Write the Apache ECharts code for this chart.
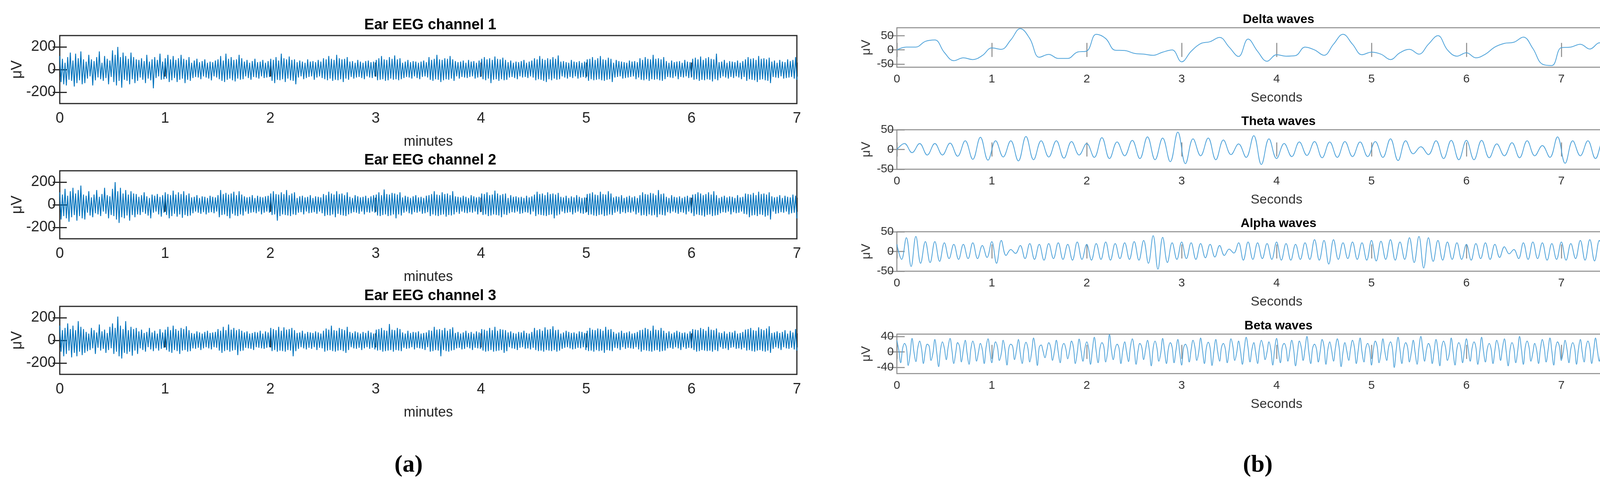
<!DOCTYPE html>
<html><head><meta charset="utf-8">
<script src="https://cdn.jsdelivr.net/npm/echarts@6/dist/echarts.min.js"></script>
<style>html,body{margin:0;padding:0;background:#fff;overflow:hidden}#c{width:4273px;height:1259px}</style>
</head><body><div id="c"></div>
<script>
// ---------- DATA ----------
const leftTitles = ['Ear EEG channel 1','Ear EEG channel 2','Ear EEG channel 3'];
const rightTitles = ['Delta waves','Theta waves','Alpha waves','Beta waves'];
const leftYTicks = [-200,0,200];
const deltaYTicks = [-50,0,50];
const thetaYTicks = [-50,0,50];
const alphaYTicks = [-50,0,50];
const betaYTicks = [-40,0,40];

// Ear EEG channels (µV), evenly spaced over 0–7 minutes
const ch1 = [120,-110,95,-130,60,-140,110,-90,150,-100,80,-150,140,-120,100,-95,160,-130,90,-120,
70,-80,130,-60,90,-140,75,-95,110,-70,160,-85,60,-100,120,-75,95,-130,80,-65,
170,-110,130,-140,200,-100,110,-160,150,-90,120,-100,95,-130,150,-85,110,-120,90,-100,
85,-70,100,-90,75,-120,130,-80,70,-95,90,-165,110,-75,85,-60,140,-90,70,-85,
100,-80,130,-110,90,-95,120,-75,85,-110,100,-90,130,-80,95,-120,85,-90,110,-100,
60,-75,80,-65,95,-70,65,-85,75,-60,90,-70,60,-80,70,-95,65,-60,80,-70,
90,-85,120,-100,80,-110,140,-90,95,-80,110,-95,85,-105,90,-80,130,-90,100,-85,
70,-60,85,-75,60,-90,75,-65,95,-70,65,-80,70,-60,85,-75,60,-70,75,-65,
95,-100,85,-120,110,-90,80,-95,140,-85,100,-110,90,-80,115,-95,85,-100,90,-130,
65,-70,80,-60,70,-85,60,-75,90,-65,70,-60,75,-90,65,-70,85,-60,70,-75,
100,-85,90,-95,120,-80,95,-100,85,-90,130,-95,100,-85,90,-110,95,-80,110,-90,
70,-65,75,-80,60,-70,85,-65,70,-75,60,-85,75,-60,80,-70,65,-75,70,-60,
85,-95,100,-90,120,-85,90,-100,85,-95,110,-80,95,-90,125,-85,90,-95,100,-85,
60,-75,70,-65,85,-70,65,-80,75,-60,70,-75,60,-85,70,-65,80,-60,65,-70,
110,-90,85,-100,95,-85,130,-90,90,-110,85,-95,100,-85,95,-90,120,-80,90,-100,
75,-60,65,-80,70,-65,80,-70,60,-75,85,-65,70,-60,75,-80,60,-70,80,-65,
95,-85,110,-95,90,-80,100,-120,85,-90,115,-85,95,-100,90,-85,105,-95,85,-90,
65,-70,80,-65,60,-75,70,-85,65,-60,75,-70,85,-65,60,-75,70,-60,80,-70,
100,-95,90,-85,120,-90,95,-100,85,-110,100,-85,90,-95,110,-80,95,-90,125,-85,
70,-60,75,-70,65,-80,60,-65,85,-75,70,-60,65,-80,75,-70,60,-65,70,-75,
90,-100,95,-85,110,-95,85,-90,100,-85,120,-95,90,-100,85,-90,105,-85,95,-110,
60,-70,85,-65,75,-60,70,-80,65,-75,60,-70,80,-65,70,-60,75,-85,65,-70,
100,-90,85,-95,110,-85,95,-100,90,-85,130,-90,95,-85,100,-95,90,-100,110,-85,
75,-65,60,-70,80,-75,65,-60,70,-85,75,-65,60,-70,85,-60,70,-75,65,-70,
95,-90,105,-85,90,-100,115,-90,85,-95,100,-85,110,-90,95,-105,90,-85,140,-95,
65,-75,70,-60,85,-70,60,-80,75,-65,70,-75,65,-60,80,-70,60,-85,75,-65,
90,-100,110,-85,95,-90,100,-95,85,-110,120,-90,95,-85,100,-95,90,-100,105,-120,
70,-65,80,-70,60,-75,85,-60,70,-80,65,-75,90,-70,75,-65,85,-80,110,-90];
const ch2 = [110,-130,90,-100,140,-120,80,-150,120,-110,150,-90,100,-140,130,-100,170,-120,90,-130,
80,-70,120,-95,65,-110,90,-75,130,-85,70,-100,95,-60,150,-80,85,-120,75,-90,
140,-100,200,-130,120,-160,150,-110,100,-120,130,-95,90,-140,120,-90,100,-110,95,-85,
70,-90,85,-65,110,-80,75,-95,60,-120,90,-70,80,-60,95,-85,70,-105,85,-70,
110,-90,95,-120,85,-100,125,-80,90,-105,110,-85,95,-115,120,-90,85,-100,100,-95,
65,-75,70,-60,85,-70,60,-80,75,-65,70,-85,60,-70,80,-65,70,-75,65,-60,
85,-110,130,-90,95,-85,105,-100,90,-120,100,-80,115,-95,85,-100,120,-85,90,-95,
75,-60,65,-80,70,-70,85,-65,60,-75,80,-60,70,-85,65,-70,75,-60,80,-70,
100,-90,120,-85,95,-140,90,-100,110,-85,95,-90,130,-95,85,-100,100,-85,110,-90,
60,-70,75,-65,80,-85,65,-60,70,-75,85,-70,60,-65,75,-80,70,-60,65,-75,
95,-100,85,-90,115,-95,100,-85,90,-110,120,-80,95,-90,100,-95,85,-100,110,-85,
70,-75,60,-65,85,-70,75,-80,65,-60,70,-85,80,-65,60,-70,75,-60,85,-70,
90,-95,110,-100,85,-90,135,-85,95,-100,90,-95,105,-85,100,-120,90,-85,110,-95,
65,-70,80,-60,70,-75,60,-85,75,-65,85,-70,65,-60,70,-80,60,-75,80,-65,
85,-100,95,-85,120,-95,90,-100,85,-90,110,-85,95,-105,100,-90,85,-95,120,-85,
75,-65,70,-80,65,-60,80,-70,70,-75,60,-65,85,-70,75,-60,65,-85,70,-65,
100,-90,95,-85,110,-100,85,-95,90,-85,125,-90,100,-95,85,-110,95,-85,100,-90,
60,-75,85,-65,70,-70,75,-60,65,-80,70,-75,60,-65,80,-70,65,-85,75,-60,
90,-100,115,-85,95,-90,100,-95,85,-100,110,-90,95,-85,100,-120,90,-95,105,-85,
70,-60,65,-75,80,-70,60,-65,75,-85,65,-70,85,-60,70,-75,60,-80,65,-70,
95,-90,100,-85,110,-95,90,-100,85,-90,115,-85,95,-100,90,-95,120,-85,100,-90,
65,-70,75,-60,70,-80,85,-65,60,-75,70,-65,80,-70,65,-60,75,-85,60,-70,
85,-95,110,-90,95,-100,90,-85,105,-95,100,-90,85,-110,130,-85,95,-90,100,-95,
70,-65,60,-75,85,-60,70,-70,65,-80,75,-65,60,-70,70,-85,80,-60,65,-75,
90,-100,95,-85,110,-90,100,-95,85,-105,95,-90,110,-85,90,-100,120,-95,85,-90,
60,-75,70,-65,80,-70,65,-60,75,-85,70,-65,60,-75,85,-70,65,-60,70,-80,
100,-85,95,-110,90,-95,105,-90,85,-100,115,-85,95,-90,100,-105,90,-95,110,-130,
75,-60,65,-80,70,-75,85,-65,60,-70,80,-60,70,-85,65,-75,90,-70,80,-120];
const ch3 = [130,-100,90,-140,110,-120,150,-90,100,-150,130,-110,90,-140,170,-100,120,-130,100,-110,
75,-95,60,-85,110,-70,90,-120,70,-65,140,-90,80,-75,95,-110,65,-85,120,-70,
150,-120,110,-100,210,-140,130,-160,100,-110,170,-120,90,-100,120,-135,100,-90,110,-120,
80,-70,95,-85,65,-100,75,-60,110,-80,70,-95,85,-70,60,-90,100,-75,70,-65,
95,-85,120,-100,90,-110,130,-85,100,-95,85,-120,110,-90,100,-85,125,-100,90,-95,
65,-70,60,-75,80,-65,70,-85,60,-70,75,-60,85,-70,65,-80,70,-60,75,-65,
100,-90,85,-110,120,-95,90,-85,140,-100,95,-90,110,-85,90,-130,100,-95,85,-90,
70,-65,80,-70,60,-75,65,-85,75,-60,70,-65,85,-70,60,-75,80,-65,70,-60,
110,-95,100,-85,90,-100,120,-90,85,-95,115,-100,95,-85,100,-90,110,-140,90,-95,
65,-75,70,-60,85,-70,60,-80,75,-65,70,-75,65,-60,80,-85,70,-65,60,-70,
85,-100,105,-90,95,-85,130,-95,90,-100,85,-90,110,-85,100,-95,90,-110,120,-85,
75,-60,65,-70,80,-75,70,-65,60,-85,75,-70,65,-60,85,-75,70,-65,60,-80,
95,-90,100,-85,110,-100,90,-95,85,-90,145,-85,95,-100,90,-85,110,-90,100,-95,
70,-65,60,-75,85,-70,65,-60,75,-80,70,-65,80,-70,60,-75,65,-85,70,-60,
90,-100,85,-95,120,-85,95,-90,100,-140,90,-85,110,-95,85,-100,100,-90,115,-85,
65,-70,75,-65,60,-80,70,-75,85,-60,65,-70,75,-85,60,-65,80,-70,70,-75,
100,-90,95,-100,85,-95,110,-85,90,-100,120,-95,85,-90,100,-85,95,-110,90,-95,
70,-60,80,-70,65,-75,60,-85,75,-65,70,-60,85,-75,65,-70,60,-80,75,-65,
110,-85,90,-95,100,-90,85,-100,115,-85,95,-90,100,-95,125,-85,90,-100,95,-90,
60,-75,70,-65,85,-60,75,-70,65,-80,70,-75,60,-65,80,-70,75,-60,65,-85,
85,-95,110,-90,95,-100,90,-85,105,-95,100,-90,85,-110,120,-85,95,-90,100,-95,
75,-65,60,-70,70,-85,85,-60,65,-75,70,-65,80,-70,60,-75,65,-60,75,-80,
90,-100,95,-85,110,-90,100,-95,85,-100,130,-90,95,-85,90,-100,110,-95,85,-90,
65,-70,80,-65,60,-75,70,-60,85,-70,75,-85,65,-60,70,-75,60,-65,80,-70,
100,-85,95,-100,90,-95,110,-85,100,-90,85,-95,120,-90,95,-100,90,-85,105,-95,
70,-60,65,-75,80,-70,60,-85,75,-65,70,-60,85,-75,60,-70,65,-80,75,-65,
95,-90,100,-85,110,-95,90,-100,85,-90,115,-85,100,-95,90,-100,105,-90,125,-110,
65,-75,70,-60,80,-70,65,-85,75,-60,90,-70,60,-75,85,-65,70,-80,100,-90];

// Delta (µV), every 0.1 s from 0 to 8 s
const delta = [0,10,10,30,35,-9,-38,-28,-34,-20,7,2,35,75,40,-26,-16,-30,-30,-8,
-4,55,40,-1,-2,-12,-15,-19,-8,0,-42,-5,22,29,44,10,-23,38,-5,-40,
-17,-22,-20,10,0,-19,20,55,20,-17,-8,-15,-34,-10,2,-15,20,50,0,-22,
-10,-28,-15,10,23,27,45,5,-50,-55,8,10,20,3,25,-15,-52,-35,-12,5,12];
// Theta (µV), successive peaks/troughs evenly spread over 0–8 s
const theta = [0,15,-8,15,-14,15,-14,16,-17,22,-25,31,-27,22,-19,22,-29,33,-26,22,-19,22,-22,20,-14,15,-20,
30,-23,19,-16,23,-23,32,-26,29,-31,44,-36,27,-16,29,-26,24,-13,14,-20,35,-38,27,-23,15,-18,19,-15,20,-21,
19,-20,20,-18,19,-18,20,-20,27,-28,22,-11,7,-13,22,-23,23,-26,23,-26,23,-21,14,-16,17,-21,22,-16,10,-20,
32,-35,22,-16,22,-23,22,-16,10,-20,26,-30,26,-18];
// Alpha (µV), peaks/troughs every 0.05 s
const alpha = [18,-20,35,-38,38,-30,25,
-28,25,-25,22,-18,18,-20,18,-18,22,-18,15,-15,25,
-30,28,-10,5,-5,15,
-18,20,-20,18,-22,20,-18,22,-20,18,-22,24,-20,18,-22,20,-20,24,-22,20,-18,22,-20,25,-22,28,
-30,40,-45,36,-28,22,
-20,24,-18,22,-20,20,-16,18,-14,15,-10,
6,-4,
22,-22,24,-20,22,-18,20,-20,24,-22,20,-22,18,-20,22,-20,30,-22,28,
-32,30,
-20,22,-18,24,-20,22,-22,28,-24,26,-20,30,-22,24,-20,
35,-28,38,-42,35,-25,
28,-22,24,-20,22,-20,18,-22,20,-18,22,-20,18,-15,12,
-6,5,
-18,22,-20,24,-18,22,-22,20,-20,24,-22,20,-18,28,-22,30,-24,28,-25,
30,-22,28,-20,24,-22,26,-24,22,-30,38];
// Beta (µV), samples every 0.02 s
const beta = [30,5,-28,8, 22,12,-35,-5, 35,0,-25,10, 28,8,-30,2, 20,15,-22,-3, 32,-2,-38,6, 26,10,-20,12, 35,4,-30,-2, 24,14,-26,5, 30,-4,-32,8,
28,10,-24,0, 22,6,-30,12, 34,2,-28,6, 26,12,-22,-4, 30,5,-34,10, 20,14,-20,4, 32,-3,-30,8, 25,10,-26,0, 36,6,-35,12, 18,2,-15,5,
24,12,-22,2, 30,0,-28,10, 22,8,-18,4, 28,12,-30,-2, 33,4,-24,8, 26,10,-32,6, 38,2,-28,10, 24,14,-26,0, 45,5,-20,8, 20,10,-30,4,
26,0,-25,12, 34,8,-32,2, 22,12,-20,6, 30,4,-36,10, 28,10,-24,-3, 35,2,-30,8, 24,12,-28,4, 32,-2,-34,10, 20,8,-26,6, 30,12,-22,0,
36,4,-30,10, 25,10,-35,2, 32,0,-24,12, 22,8,-28,4, 34,14,-22,-2, 28,2,-32,8, 38,10,-26,6, 24,-2,-30,10, 30,12,-20,0, 26,6,-34,8,
35,2,-28,12, 22,10,-24,4, 30,6,-36,-2, 28,12,-22,8, 40,0,-30,10, 20,8,-26,2, 32,14,-32,6, 26,4,-24,10, 34,10,-38,0, 24,2,-22,8,
30,12,-30,4, 36,0,-26,10, 22,8,-34,6, 28,14,-28,-2, 34,2,-22,12, 26,10,-40,4, 38,6,-30,8, 24,12,-26,0, 30,-2,-32,10, 40,8,-24,6,
22,10,-30,2, 32,4,-36,12, 28,12,-22,-4, 36,0,-34,8, 24,10,-28,6, 34,6,-24,10, 26,12,-32,0, 38,2,-26,8, 22,8,-30,4, 30,12,-22,10,
34,0,-36,6, 24,10,-28,2, 40,6,-32,12, 28,12,-24,-2, 22,4,-30,8, 32,10,-26,4, 36,2,-34,10, 26,14,-22,0, 30,6,-28,8, 24,10,-32,6,
32,0,-26,12, 28,12,-30,2, 36,4,-24,8, 22,10,-34,4, 30,8,-28,10, 40,2,-36,0, 26,12,-22,8, 34,6,-30,4, 24,10,-26,12, 38,0,-40,6,
20];

// ---------- CHART ----------
const chart = echarts.init(document.getElementById('c'), null, {renderer:'canvas'});
const grids=[], xAxes=[], yAxes=[], series=[], titles=[];
function toXY(arr, xmax){const n=arr.length;return arr.map((v,i)=>[i*xmax/(n-1),v]);}

const L = {left:153, width:1887, height:174, tops:[91,437,784]};
const R = {left:2296, width:1944, height:101, tops:[71,332,593,855]};

function addPanel(o){
  const gi = grids.length;
  grids.push({left:o.left, top:o.top, width:o.width, height:o.height, show:true,
    borderColor:o.frame, borderWidth:o.fw, backgroundColor:'#fff'});
  const tickStyle = {color:o.frame, width:o.fw};
  xAxes.push({gridIndex:gi, type:'value', min:0, max:o.xmax, interval:1,
    axisLine:{show:false}, splitLine:{show:false},
    axisTick:{show:true, inside:true, length:o.tl, lineStyle:tickStyle},
    axisLabel:{show:true, margin:o.lm, fontSize:o.fs, color:o.lc, fontFamily:o.ff},
    name:o.xname, nameLocation:'middle', nameGap:o.ng,
    nameTextStyle:{fontSize:o.nfs, color:o.lc, fontFamily:o.ff}});
  xAxes.push({gridIndex:gi, type:'value', position:'top', min:0, max:o.xmax, interval:1,
    axisLine:{show:false}, splitLine:{show:false}, axisLabel:{show:false},
    axisTick:{show:true, inside:true, length:o.tl, lineStyle:tickStyle}});
  yAxes.push({gridIndex:gi, type:'value', min:o.ymin, max:o.ymax,
    axisLine:{show:false}, splitLine:{show:false},
    axisTick:{show:true, inside:true, length:o.ytl, lineStyle:tickStyle, customValues:o.yt},
    axisLabel:{show:true, margin:o.ylm, fontSize:o.fs, color:o.lc, fontFamily:o.ff, customValues:o.yt},
    name:'μV', nameLocation:'middle', nameGap:o.yng, nameRotate:90,
    nameTextStyle:{fontSize:o.ynfs, color:o.lc, fontFamily:o.ff}});
  yAxes.push({gridIndex:gi, type:'value', position:'right', min:o.ymin, max:o.ymax,
    axisLine:{show:false}, splitLine:{show:false}, axisLabel:{show:false},
    axisTick:{show:true, inside:true, length:o.ytl, lineStyle:tickStyle, customValues:o.yt}});
  series.push({type:'line', xAxisIndex:2*gi, yAxisIndex:2*gi, data:toXY(o.data,o.xmax),
    showSymbol:false, smooth:o.smooth, animation:false, clip:true, z:1,
    lineStyle:{color:o.color, width:o.lw}});
  titles.push({text:o.title, left:o.left+o.width/2, top:o.top-o.tgap, textAlign:'center',
    textStyle:{fontSize:o.tfs, fontWeight:'bold', color:'#000', fontFamily:o.ff}});
}

const leftData=[ch1,ch2,ch3];
for(let i=0;i<3;i++){
  addPanel({left:L.left, width:L.width, height:L.height, top:L.tops[i], frame:'#262626', fw:3,
    xmax:7, ymin:-300, ymax:300, yt:leftYTicks, tl:18, ytl:18, lm:20, ylm:10, fs:38, nfs:36, lc:'#262626',
    ff:'"Liberation Sans Narrow","Arial Narrow","Liberation Sans",Arial,sans-serif', xname:'minutes', ng:80,
    yng:80, ynfs:38, data:leftData[i], smooth:false, color:'#0072BD', lw:2.2, title:leftTitles[i], tgap:50, tfs:38});
}
const rightData=[delta,theta,alpha,beta];
const rRanges=[[-61,78],[-50,50],[-50,50],[-56,46]];
const rTicks=[deltaYTicks,thetaYTicks,alphaYTicks,betaYTicks];
for(let i=0;i<4;i++){
  addPanel({left:R.left, width:R.width, height:R.height, top:R.tops[i], frame:'#8a8a8a', fw:2.5,
    xmax:8, ymin:rRanges[i][0], ymax:rRanges[i][1], yt:rTicks[i], tl:18, ytl:20, lm:16, ylm:8, fs:30, nfs:34, lc:'#333',
    ff:'"Liberation Sans",Arial,sans-serif', xname:'Seconds', ng:62,
    yng:62, ynfs:32, data:rightData[i], smooth:0.4, color:'#4fa3da', lw:2, title:rightTitles[i], tgap:42, tfs:32});
}
const capStyle = {fontSize:62, color:'#000', fontFamily:'"Liberation Serif","DejaVu Serif",serif',
  rich:{a:{fontSize:62,fontWeight:'bold',fontFamily:'"Liberation Serif",serif'}}};
titles.push({text:'({a|a})', left:1041, top:1155, textAlign:'center', textStyle:capStyle});
titles.push({text:'({a|b})', left:3215, top:1155, textAlign:'center', textStyle:capStyle});

chart.setOption({animation:false, backgroundColor:'#fff', title:titles, grid:grids, xAxis:xAxes, yAxis:yAxes, series:series});
</script></body></html>
